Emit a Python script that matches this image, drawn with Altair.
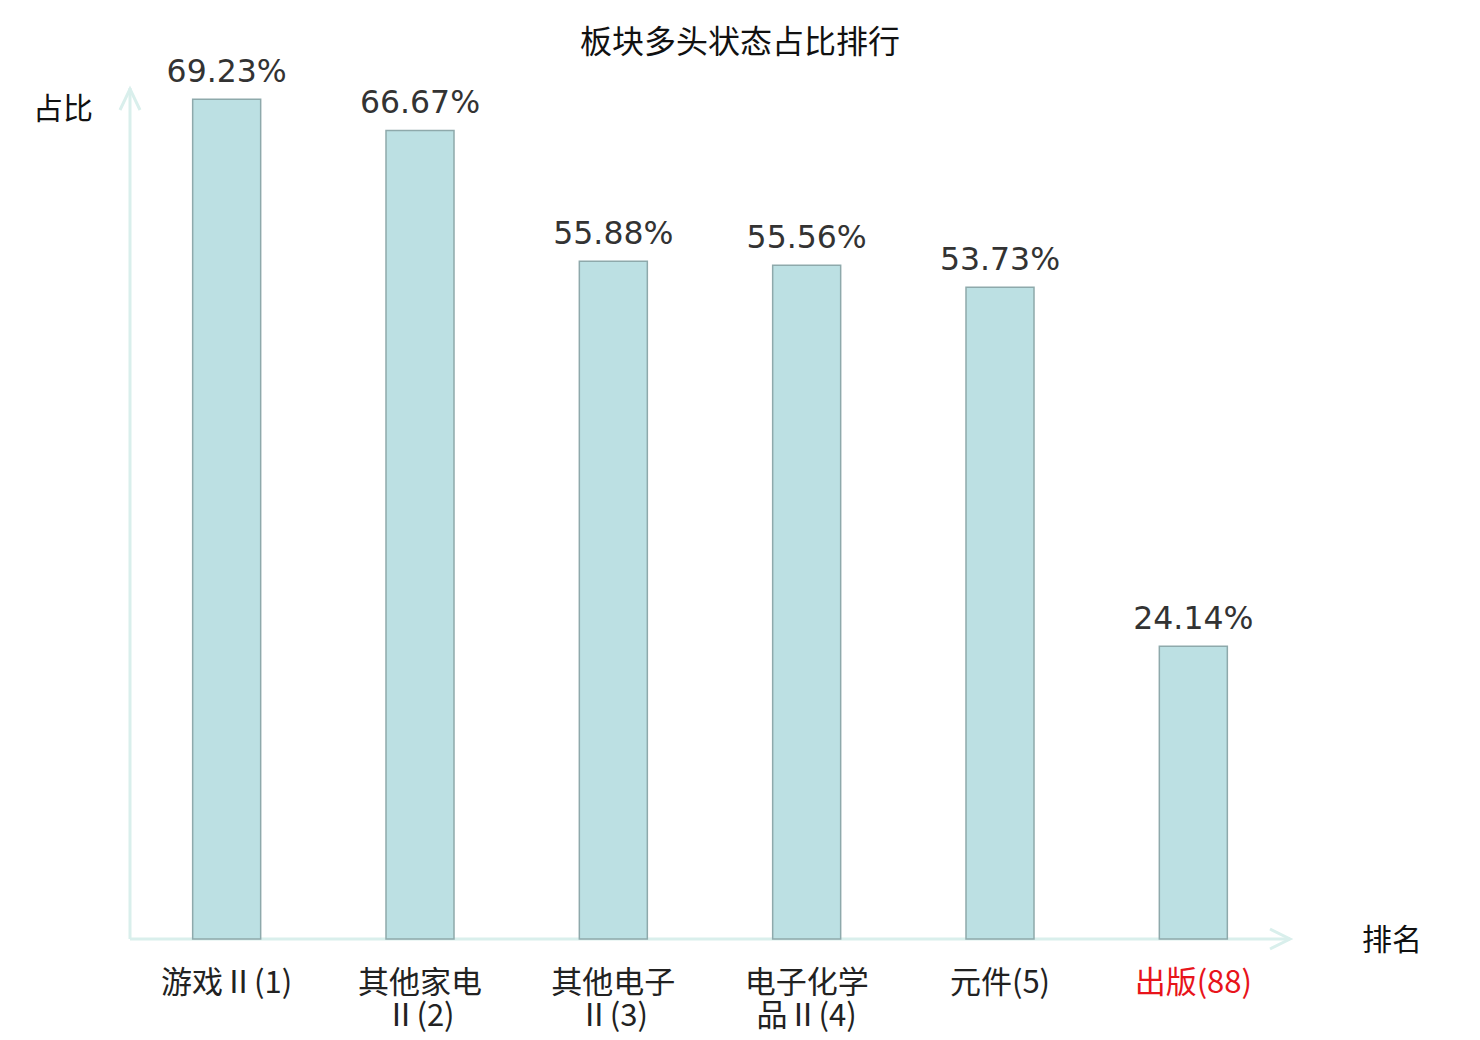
import altair as alt
import pandas as pd

categories = ["游戏Ⅱ(1)", "其他家电\nⅡ(2)", "其他电子\nⅡ(3)", "电子化学\n品Ⅱ(4)", "元件(5)", "出版(88)"]
values = [69.23, 66.67, 55.88, 55.56, 53.73, 24.14]
value_labels = ["69.23%", "66.67%", "55.88%", "55.56%", "53.73%", "24.14%"]
highlight = "出版(88)"
title_text = "板块多头状态占比排行"
y_title = "占比"
x_title = "排名"

df = pd.DataFrame({"cat": categories, "val": values, "lab": value_labels})

W, H = 1160, 849
AXIS_COLOR = "#d9efec"
CJK = "Noto Sans CJK SC"

xenc = alt.X("cat:N", sort=None,
             scale=alt.Scale(paddingInner=0, paddingOuter=0),
             axis=alt.Axis(title=None, domain=False, ticks=False, labelAngle=0,
                           labelFont=CJK, labelFontSize=31, labelPadding=29,
                           labelLineHeight=33, labelBaseline="top",
                           labelExpr="split(datum.label, '\\n')",
                           labelColor=alt.expr(f"datum.label == '{highlight}' ? '#e8141b' : '#222222'")))
yenc = alt.Y("val:Q", scale=alt.Scale(domain=[0, 70], nice=False, zero=True), axis=None)

base = alt.Chart(df)
bars = base.mark_bar(size=68, fill="#bce0e3", stroke="#8ea9ab", strokeWidth=1.5).encode(x=xenc, y=yenc)
texts = base.mark_text(font="DejaVu Sans", fontSize=31.5, color="#333333", baseline="alphabetic",
                       dy=-17).encode(x=alt.X("cat:N", sort=None), y=yenc, text="lab:N")

one = alt.Chart(pd.DataFrame({"k": [0]}))
yline = one.mark_rule(color=AXIS_COLOR, strokeWidth=3).encode(
    x=alt.value(0), y=alt.value(-2), y2=alt.value(H))
xline = one.mark_rule(color=AXIS_COLOR, strokeWidth=3).encode(
    x=alt.value(0), x2=alt.value(W), y=alt.value(H))
yarrow = one.mark_point(shape="M-1,1.1L0,-1L1,1.1", size=400, filled=False,
                        stroke=AXIS_COLOR, strokeWidth=3, opacity=1).encode(
    x=alt.value(0), y=alt.value(9))
xarrow = one.mark_point(shape="M-1,-1L1,0L-1,1", size=400, filled=False,
                        stroke=AXIS_COLOR, strokeWidth=3, opacity=1).encode(
    x=alt.value(W - 10), y=alt.value(H))

title = one.mark_text(font=CJK, fontSize=32, color="#111111", align="center", baseline="middle").encode(
    x=alt.value(610), y=alt.value(-47), text=alt.value(title_text))
ytitle = one.mark_text(font=CJK, fontSize=30, color="#111111", align="center", baseline="middle").encode(
    x=alt.value(-67), y=alt.value(20), text=alt.value(y_title))
xtitle = one.mark_text(font=CJK, fontSize=30, color="#111111", align="center", baseline="middle").encode(
    x=alt.value(1262), y=alt.value(851), text=alt.value(x_title))

chart = alt.layer(yline, xline, bars, texts, yarrow, xarrow, title, ytitle, xtitle).properties(
    width=W, height=H,
    background="white",
    autosize=alt.AutoSizeParams(type="none"),
    padding={"left": 122, "top": 82, "right": 170, "bottom": 95},
).configure_view(strokeWidth=0, stroke=None)

chart.save("out.html", embed_options={"renderer": "svg", "actions": False})
